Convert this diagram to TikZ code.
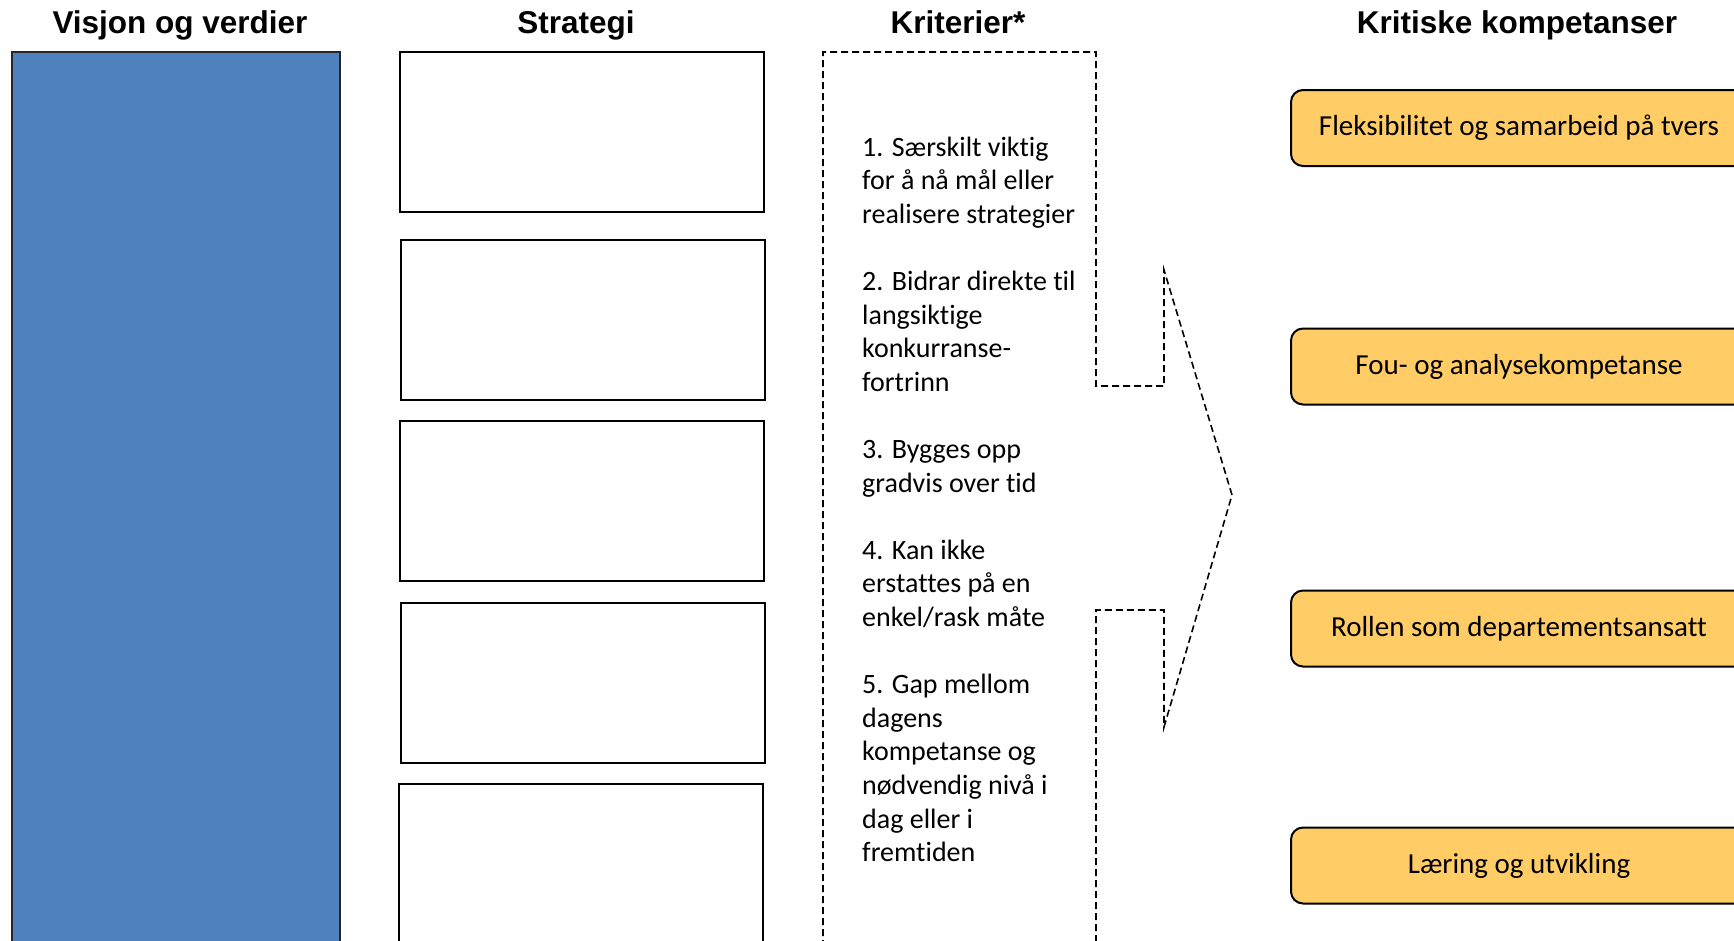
\documentclass[tikz,border=0pt]{standalone}
\usepackage{fontspec}
\setmainfont{Carlito}[Ligatures=NoCommon]
\newfontfamily\headfont{Liberation Sans}
\definecolor{visionblue}{HTML}{4F81BD}
\definecolor{skillfill}{HTML}{FFCC66}
\begin{document}
\begin{tikzpicture}[x=1pt,y=-1pt,
  heading/.style={font=\headfont\bfseries\fontsize{31.5}{36}\selectfont, anchor=base, inner sep=0},
  visionbox/.style={draw=black!85, line width=2pt, fill=visionblue, minimum width=328pt, minimum height=930pt, anchor=north west, inner sep=0, outer sep=0},
  stratbox/.style={draw=black, line width=2.2pt, fill=white, minimum width=364pt, minimum height=160pt, anchor=north west, inner sep=0, outer sep=0},
  skillbox/.style={draw=black, line width=2pt, fill=skillfill, rounded corners=12pt, minimum width=456pt, minimum height=76pt, inner sep=0, text height=22.5pt, text depth=7pt, font=\fontsize{29}{34}\selectfont},
  critline/.style={line width=1.6pt, dash pattern=on 7pt off 4pt, line join=miter}
]
\clip (0,0) rectangle (1734,940);
\fill[white] (0,0) rectangle (1734,940);

% column headings
\node[heading] (hvision) at (180,33) {Visjon og verdier};
\node[heading] (hstrat)  at (576,33) {Strategi};
\node[heading] (hcrit)   at (958,33) {Kriterier*};
\node[heading] (hskill)  at (1517,33) {Kritiske kompetanser};

% vision and values
\node[visionbox] (vision) at (12,52) {};

% strategy boxes
\node[stratbox] (s1) at (400,52) {};
\node[stratbox] (s2) at (401,240) {};
\node[stratbox] (s3) at (400,421) {};
\node[stratbox] (s4) at (401,603) {};
\node[stratbox] (s5) at (399,784) {};

% dashed arrow outline around the criteria
\coordinate (a1) at (823,980);
\coordinate (a2) at (823,52);
\coordinate (a3) at (1096,52);
\coordinate (a4) at (1096,386);
\coordinate (a5) at (1164,386);
\coordinate (a6) at (1164,270);
\coordinate (tip) at (1232,495);
\coordinate (a7) at (1164,727);
\coordinate (a8) at (1164,610);
\coordinate (a9) at (1096,610);
\coordinate (a10) at (1096,980);
\draw[critline] (a1) -- (a2) -- (a3) -- (a4) -- (a5) -- (a6) -- (tip) -- (a7) -- (a8) -- (a9) -- (a10);

% criteria text
\node[anchor=base west, inner sep=0] (crit) at (862,156) {\parbox[t]{260pt}{\raggedright\fontsize{28}{33.6}\selectfont
1. Særskilt viktig\\
for å nå mål eller\\
realisere strategier\\[33.6pt]
2. Bidrar direkte til\\
langsiktige\\
konkurranse-\\
fortrinn\\[33.6pt]
3. Bygges opp\\
gradvis over tid\\[33.6pt]
4. Kan ikke\\
erstattes på en\\
enkel/rask måte\\[33.6pt]
5. Gap mellom\\
dagens\\
kompetanse og\\
nødvendig nivå i\\
dag eller i\\
fremtiden}};

% critical competences
\node[skillbox] (k1) at (1519,128)   {Fleksibilitet og samarbeid på tvers};
\node[skillbox] (k2) at (1519,366.5) {Fou- og analysekompetanse};
\node[skillbox] (k3) at (1519,628.5) {Rollen som departementsansatt};
\node[skillbox] (k4) at (1519,865.5) {Læring og utvikling};
\end{tikzpicture}
\end{document}
